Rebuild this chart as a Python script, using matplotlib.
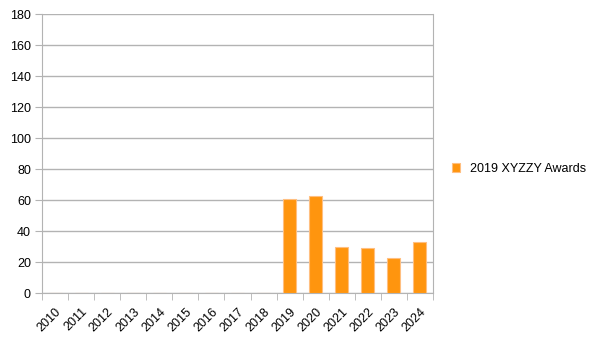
import numpy as np
import matplotlib.pyplot as plt

# XYZZY awards per year

years = ['2010', '2011', '2012', '2013', '2014', '2015', '2016', '2017',
         '2018', '2019', '2020', '2021', '2022', '2023', '2024']
awards = [0, 0, 0, 0, 0, 0, 0, 0, 0, 61, 63, 30, 29, 23, 33]
series_name = '2019 XYZZY Awards'

plt.rcParams['font.family'] = ['Liberation Sans', 'DejaVu Sans']

fig = plt.figure(figsize=(6.05, 3.41), dpi=100)
ax = fig.add_axes([0.0694, 0.1399, 0.6463, 0.8190])

x = np.arange(len(years))
ax.bar(x, awards, width=0.5, color='#ff950e', edgecolor='#ffbf80',
       linewidth=0.8, label=series_name, zorder=3)

ax.set_xlim(-0.5, len(years) - 0.5)
ax.set_ylim(0, 180)
ax.set_yticks(np.arange(0, 181, 20))
ax.grid(axis='y', color='#b3b3b3', linewidth=1, zorder=0)

ax.set_xticks(x)
ax.set_xticklabels(years, rotation=45, ha='right', rotation_mode='anchor')
ax.set_xticks(np.arange(-0.5, len(years)), minor=True)
ax.tick_params(axis='x', which='major', length=0, pad=9, labelsize=9)
ax.tick_params(axis='x', which='minor', length=5, color='#b3b3b3')
ax.tick_params(axis='y', length=5, color='#b3b3b3', labelsize=9, pad=3)

for side in ['left', 'bottom', 'right']:
    ax.spines[side].set_color('#b3b3b3')
ax.spines['top'].set_visible(False)

fig.legend(loc='center left', bbox_to_anchor=(0.728, 0.505), frameon=False,
           fontsize=9, handlelength=0.7, handleheight=0.7, handletextpad=0.8)

fig.savefig('out.png', dpi=100)
